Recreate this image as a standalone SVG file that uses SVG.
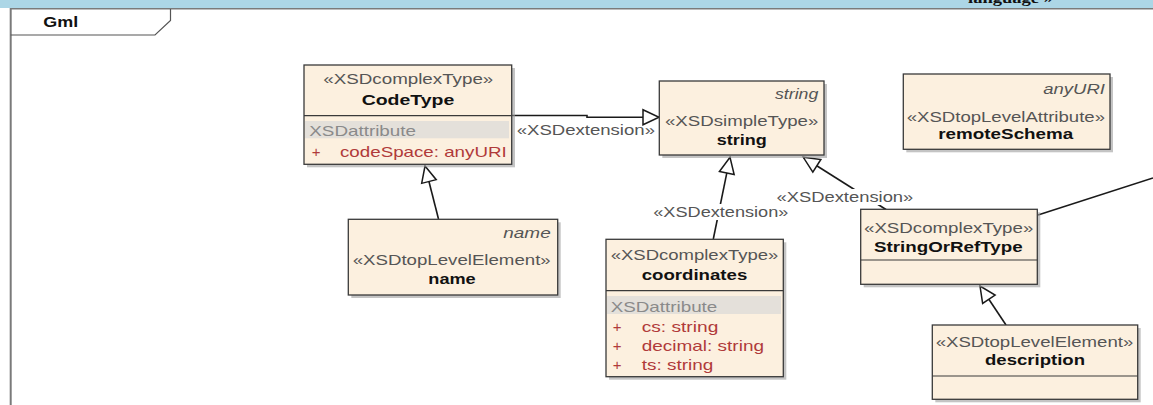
<svg xmlns="http://www.w3.org/2000/svg" width="1153" height="405" viewBox="0 0 1153 405">
<style>
text{font-family:"Liberation Sans",Arial,sans-serif;font-size:15px;}
.st{fill:#555555;}
.nm{fill:#111111;font-weight:bold;}
.it{fill:#555555;font-style:italic;}
.ga{fill:#8a8a8a;}
.at{fill:#b03a3a;}
.lbl{fill:#555555;}
.box{fill:#fcf0df;stroke:#3a3a3a;stroke-width:1.3;}
.sh{fill:#9c9c9c;opacity:0.6;}
.sep{stroke:#3a3a3a;stroke-width:1.2;}
.band{fill:#e4e0da;}
.con{fill:none;stroke:#1a1a1a;stroke-width:1.6;}
</style>
<defs>
<marker id="tri" markerUnits="userSpaceOnUse" markerWidth="20" markerHeight="20" viewBox="0 0 20 20" refX="18" refY="10" orient="auto">
<path d="M2,2.5 L18,10 L2,17.5 Z" fill="#ffffff" stroke="#1a1a1a" stroke-width="1.5"/>
</marker>
<clipPath id="topclip"><rect x="0" y="0" width="1153" height="8"/></clipPath>
</defs>
<rect width="1153" height="405" fill="#ffffff"/>
<g id="frame">
<rect x="0" y="0" width="1153" height="8" fill="#acd6e6"/>
<text x="968" y="3" clip-path="url(#topclip)" style="font-family:'Liberation Serif',serif;font-weight:bold;font-size:15px;fill:#111" textLength="85" lengthAdjust="spacingAndGlyphs">language »</text>
<line x1="10" y1="8.8" x2="1153" y2="8.8" stroke="#7a7a7a" stroke-width="1.6"/>
<line x1="10.7" y1="8" x2="10.7" y2="405" stroke="#7a7a7a" stroke-width="2"/>
<path d="M10.7,35 L155,35 L170.5,20.5 L170.5,9" fill="none" stroke="#555" stroke-width="1.2"/>
<text x="43.3" y="26.7" style="font-weight:bold;font-size:15px;fill:#111" textLength="35" lengthAdjust="spacingAndGlyphs">Gml</text>
</g>
<g id="connectors">
<path class="con" d="M512,115.5 L587,115.5 L587,117.3 L659,117.3" marker-end="url(#tri)"/>
<path class="con" d="M438.5,219 L425,166" marker-end="url(#tri)"/>
<path class="con" d="M713.3,239 L730,157.3" marker-end="url(#tri)"/>
<path class="con" d="M886,209.5 L803.3,157.3" marker-end="url(#tri)"/>
<path class="con" d="M1006,325 L980,286" marker-end="url(#tri)"/>
<path class="con" d="M1038,215 L1153,178"/>
<text class="lbl" x="516.7" y="135" textLength="138.3" lengthAdjust="spacingAndGlyphs">«XSDextension»</text>
<rect x="652" y="204" width="138" height="16" fill="#ffffff"/>
<text class="lbl" x="653.3" y="216.7" textLength="135" lengthAdjust="spacingAndGlyphs">«XSDextension»</text>
<rect x="775" y="189" width="140" height="16" fill="#ffffff"/>
<text class="lbl" x="776.5" y="202" textLength="136.8" lengthAdjust="spacingAndGlyphs">«XSDextension»</text>
</g>
<g id="CodeType">
<rect class="sh" x="307" y="68" width="208" height="99.3"/>
<rect class="box" x="304" y="65" width="207.7" height="99.3"/>
<line class="sep" x1="304" y1="115.7" x2="511.7" y2="115.7"/>
<rect class="band" x="305" y="121" width="204" height="17.3"/>
<text class="st" x="323.3" y="84.3" textLength="170" lengthAdjust="spacingAndGlyphs">«XSDcomplexType»</text>
<text class="nm" x="361.7" y="105" textLength="92.6" lengthAdjust="spacingAndGlyphs">CodeType</text>
<text class="ga" x="309.3" y="136.3" textLength="106.7" lengthAdjust="spacingAndGlyphs">XSDattribute</text>
<text class="at" x="311.7" y="156.5">+</text>
<text class="at" x="340" y="156.5" textLength="166.7" lengthAdjust="spacingAndGlyphs">codeSpace:  anyURI</text>
</g>
<g id="string">
<rect class="sh" x="662.3" y="84" width="164.7" height="74"/>
<rect class="box" x="659.3" y="81" width="164.7" height="74"/>
<text class="it" x="775" y="99.3" textLength="43.3" lengthAdjust="spacingAndGlyphs">string</text>
<text class="st" x="665" y="126" textLength="153.3" lengthAdjust="spacingAndGlyphs">«XSDsimpleType»</text>
<text class="nm" x="716.7" y="145" textLength="50" lengthAdjust="spacingAndGlyphs">string</text>
</g>
<g id="name">
<rect class="sh" x="351.3" y="222.3" width="209.4" height="75.7"/>
<rect class="box" x="348.3" y="219.3" width="209.4" height="75.7"/>
<text class="it" x="503.3" y="237.7" textLength="47.4" lengthAdjust="spacingAndGlyphs">name</text>
<text class="st" x="352.7" y="265" textLength="198" lengthAdjust="spacingAndGlyphs">«XSDtopLevelElement»</text>
<text class="nm" x="428.3" y="284" textLength="47.4" lengthAdjust="spacingAndGlyphs">name</text>
</g>
<g id="coordinates">
<rect class="sh" x="609" y="242.3" width="177.3" height="137.4"/>
<rect class="box" x="606" y="239.3" width="177.3" height="137.4"/>
<line class="sep" x1="606" y1="290.7" x2="783.3" y2="290.7"/>
<rect class="band" x="607" y="296" width="174" height="18"/>
<text class="st" x="610.7" y="260" textLength="167.6" lengthAdjust="spacingAndGlyphs">«XSDcomplexType»</text>
<text class="nm" x="641.7" y="280" textLength="105.6" lengthAdjust="spacingAndGlyphs">coordinates</text>
<text class="ga" x="610.7" y="311.7" textLength="106.6" lengthAdjust="spacingAndGlyphs">XSDattribute</text>
<text class="at" x="612.7" y="331.5">+</text>
<text class="at" x="641.7" y="331.5" textLength="76.6" lengthAdjust="spacingAndGlyphs">cs:  string</text>
<text class="at" x="612.7" y="350.7">+</text>
<text class="at" x="641.7" y="350.7" textLength="122.3" lengthAdjust="spacingAndGlyphs">decimal:  string</text>
<text class="at" x="612.7" y="370">+</text>
<text class="at" x="641.7" y="370" textLength="71.6" lengthAdjust="spacingAndGlyphs">ts:  string</text>
</g>
<g id="remoteSchema">
<rect class="sh" x="906.3" y="77" width="206.7" height="75.3"/>
<rect class="box" x="903.3" y="74" width="206.7" height="75.3"/>
<text class="it" x="1043.3" y="94.3" textLength="61.7" lengthAdjust="spacingAndGlyphs">anyURI</text>
<text class="st" x="906.7" y="121.7" textLength="198.3" lengthAdjust="spacingAndGlyphs">«XSDtopLevelAttribute»</text>
<text class="nm" x="938.3" y="139.3" textLength="135" lengthAdjust="spacingAndGlyphs">remoteSchema</text>
</g>
<g id="StringOrRefType">
<rect class="sh" x="863.7" y="212.3" width="176.6" height="75"/>
<rect class="box" x="860.7" y="209.3" width="176.6" height="75"/>
<line class="sep" x1="860.7" y1="260" x2="1037.3" y2="260"/>
<text class="st" x="864" y="233.3" textLength="169.3" lengthAdjust="spacingAndGlyphs">«XSDcomplexType»</text>
<text class="nm" x="874" y="251.7" textLength="148.7" lengthAdjust="spacingAndGlyphs">StringOrRefType</text>
</g>
<g id="description">
<rect class="sh" x="935.3" y="328" width="205.4" height="74.3"/>
<rect class="box" x="932.3" y="325" width="205.4" height="74.3"/>
<line class="sep" x1="932.3" y1="376" x2="1137.7" y2="376"/>
<text class="st" x="935.7" y="346.7" textLength="197.6" lengthAdjust="spacingAndGlyphs">«XSDtopLevelElement»</text>
<text class="nm" x="985" y="365" textLength="100" lengthAdjust="spacingAndGlyphs">description</text>
</g>
</svg>
